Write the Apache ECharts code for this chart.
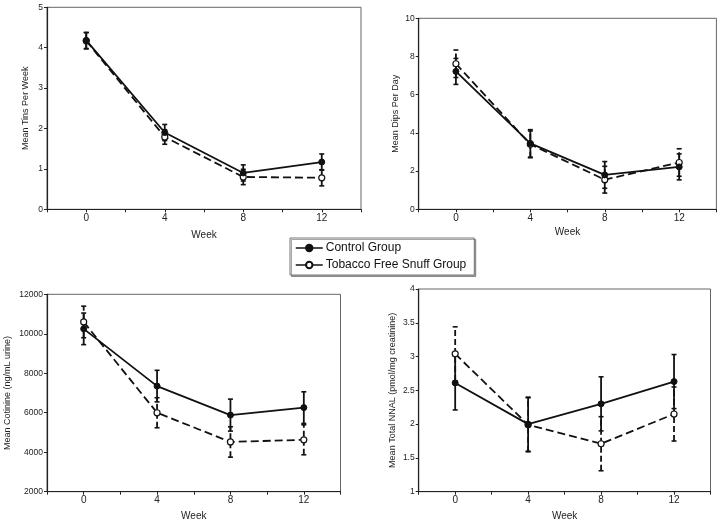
<!DOCTYPE html>
<html><head><meta charset="utf-8">
<script src="https://cdn.jsdelivr.net/npm/echarts@6/dist/echarts.min.js"></script>
<style>html,body{margin:0;padding:0;background:#fff}#c{width:720px;height:524px}</style>
</head><body><div id="c"></div>
<script>
const weeks = [0, 4, 8, 12];
const xTickLabels = ['0', '4', '8', '12'];
const seriesNames = ['Control Group', 'Tobacco Free Snuff Group'];

const tinsControl = [4.18, 1.90, 0.90, 1.17];
const tinsControlErr = [0.20, 0.20, 0.20, 0.20];
const tinsTFS = [4.17, 1.79, 0.80, 0.78];
const tinsTFSErr = [0.20, 0.18, 0.19, 0.20];

const dipsControl = [7.22, 3.45, 1.80, 2.22];
const dipsControlErr = [0.68, 0.72, 0.70, 0.68];
const dipsTFS = [7.62, 3.40, 1.55, 2.45];
const dipsTFSErr = [0.72, 0.70, 0.70, 0.72];

const cotControl = [10250, 7350, 5880, 6260];
const cotControlErr = [800, 800, 810, 800];
const cotTFS = [10600, 6000, 4520, 4630];
const cotTFSErr = [800, 760, 770, 760];

const nnalControl = [2.61, 2.00, 2.30, 2.63];
const nnalControlErr = [0.40, 0.40, 0.40, 0.40];
const nnalTFS = [3.04, 1.99, 1.71, 2.15];
const nnalTFSErr = [0.40, 0.40, 0.40, 0.40];

const yNames = ['Mean Tins Per Week', 'Mean Dips Per Day', 'Mean Cotinine (ng/mL urine)', 'Mean Total NNAL (pmol/mg creatinine)'];

const FONT = '"Liberation Sans", Arial, sans-serif';
const panels = [
  {c: tinsControl, ce: tinsControlErr, t: tinsTFS, te: tinsTFSErr, min: 0, max: 5, interval: 1, grid: {left: 47, top: 7.3, right: 359, bottom: 314.7}, nameGap: 17, xNameGap: 21},
  {c: dipsControl, ce: dipsControlErr, t: dipsTFS, te: dipsTFSErr, min: 0, max: 10, interval: 2, grid: {left: 418.7, top: 18.3, right: 3.6, bottom: 314.7}, nameGap: 19, xNameGap: 18},
  {c: cotControl, ce: cotControlErr, t: cotTFS, te: cotTFSErr, min: 2000, max: 12000, interval: 2000, grid: {left: 47, top: 294.3, right: 379.5, bottom: 32.3}, nameGap: 35, xNameGap: 20},
  {c: nnalControl, ce: nnalControlErr, t: nnalTFS, te: nnalTFSErr, min: 1, max: 4, interval: 0.5, grid: {left: 418.7, top: 289, right: 9.5, bottom: 32.3}, nameGap: 22, xNameGap: 20}
];

const grids = [], xAxes = [], yAxes = [], series = [];

function errSeries(idx, vals, errs, dashed) {
  return {
    type: 'custom', xAxisIndex: idx, yAxisIndex: idx, z: 2, silent: true,
    data: weeks.map((w, i) => [w, vals[i] - errs[i], vals[i] + errs[i]]),
    renderItem: function (params, api) {
      const lo = api.coord([api.value(0), api.value(1)]);
      const hi = api.coord([api.value(0), api.value(2)]);
      const cw = 2.5;
      const st = {stroke: '#111', lineWidth: 1.8, lineDash: dashed ? [6, 3] : null};
      const cst = {stroke: '#111', lineWidth: 1.6};
      return {type: 'group', children: [
        {type: 'line', shape: {x1: lo[0], y1: lo[1], x2: hi[0], y2: hi[1]}, style: st},
        {type: 'line', shape: {x1: lo[0] - cw, y1: lo[1], x2: lo[0] + cw, y2: lo[1]}, style: cst},
        {type: 'line', shape: {x1: hi[0] - cw, y1: hi[1], x2: hi[0] + cw, y2: hi[1]}, style: cst}
      ]};
    }
  };
}

panels.forEach((p, i) => {
  grids.push(Object.assign({show: true, borderColor: '#666', borderWidth: 1, containLabel: false}, p.grid));
  xAxes.push({
    type: 'value', gridIndex: i, min: -2, max: 14, interval: 2,
    name: 'Week', nameLocation: 'middle', nameGap: p.xNameGap,
    nameTextStyle: {fontFamily: FONT, fontSize: 10, color: '#222'},
    axisLine: {show: true, onZero: false, lineStyle: {color: '#222', width: 1.2}},
    axisTick: {show: true, length: 3, lineStyle: {color: '#222'}},
    splitLine: {show: false},
    axisLabel: {fontFamily: FONT, fontSize: 10, color: '#222', margin: 4,
      formatter: v => { const k = weeks.indexOf(v); return k >= 0 ? xTickLabels[k] : ''; }}
  });
  yAxes.push({
    type: 'value', gridIndex: i, min: p.min, max: p.max, interval: p.interval,
    name: yNames[i], nameLocation: 'middle', nameGap: p.nameGap,
    nameTextStyle: {fontFamily: FONT, fontSize: 9, color: '#222'},
    axisLine: {show: true, onZero: false, lineStyle: {color: '#222', width: 1.2}},
    axisTick: {show: true, length: 3, lineStyle: {color: '#222'}},
    splitLine: {show: false},
    axisLabel: {fontFamily: FONT, fontSize: 8.5, color: '#222', margin: 4, formatter: v => String(v)}
  });
  series.push(errSeries(i, p.c, p.ce, false));
  series.push(errSeries(i, p.t, p.te, true));
  series.push({
    type: 'line', name: seriesNames[0], xAxisIndex: i, yAxisIndex: i, z: 4,
    data: weeks.map((w, k) => [w, p.c[k]]),
    symbol: 'circle', symbolSize: 6,
    itemStyle: {color: '#111', borderColor: '#111', borderWidth: 1},
    lineStyle: {color: '#111', width: 1.8}, animation: false
  });
  series.push({
    type: 'line', name: seriesNames[1], xAxisIndex: i, yAxisIndex: i, z: 3,
    data: weeks.map((w, k) => [w, p.t[k]]),
    symbol: 'circle', symbolSize: 6,
    itemStyle: {color: '#fff', borderColor: '#111', borderWidth: 1.2},
    lineStyle: {color: '#111', width: 1.8, type: [8, 4]}, animation: false
  });
});

const chart = echarts.init(document.getElementById('c'), null, {renderer: 'canvas'});
chart.setOption({
  animation: false,
  backgroundColor: '#fff',
  grid: grids, xAxis: xAxes, yAxis: yAxes, series: series,
  legend: {
    data: seriesNames, orient: 'vertical', left: 290, top: 238,
    padding: [4, 8, 4, 5], itemGap: 5, itemWidth: 27, itemHeight: 8,
    backgroundColor: '#fff', borderColor: '#777', borderWidth: 1,
    shadowColor: 'rgba(0,0,0,0.35)', shadowOffsetX: 1.5, shadowOffsetY: 1.5,
    lineStyle: {type: 'solid', width: 1.5},
    textStyle: {fontFamily: FONT, fontSize: 12, color: '#111', padding: [0, 0, 0, -2]},
    selectedMode: false
  }
});
</script></body></html>
